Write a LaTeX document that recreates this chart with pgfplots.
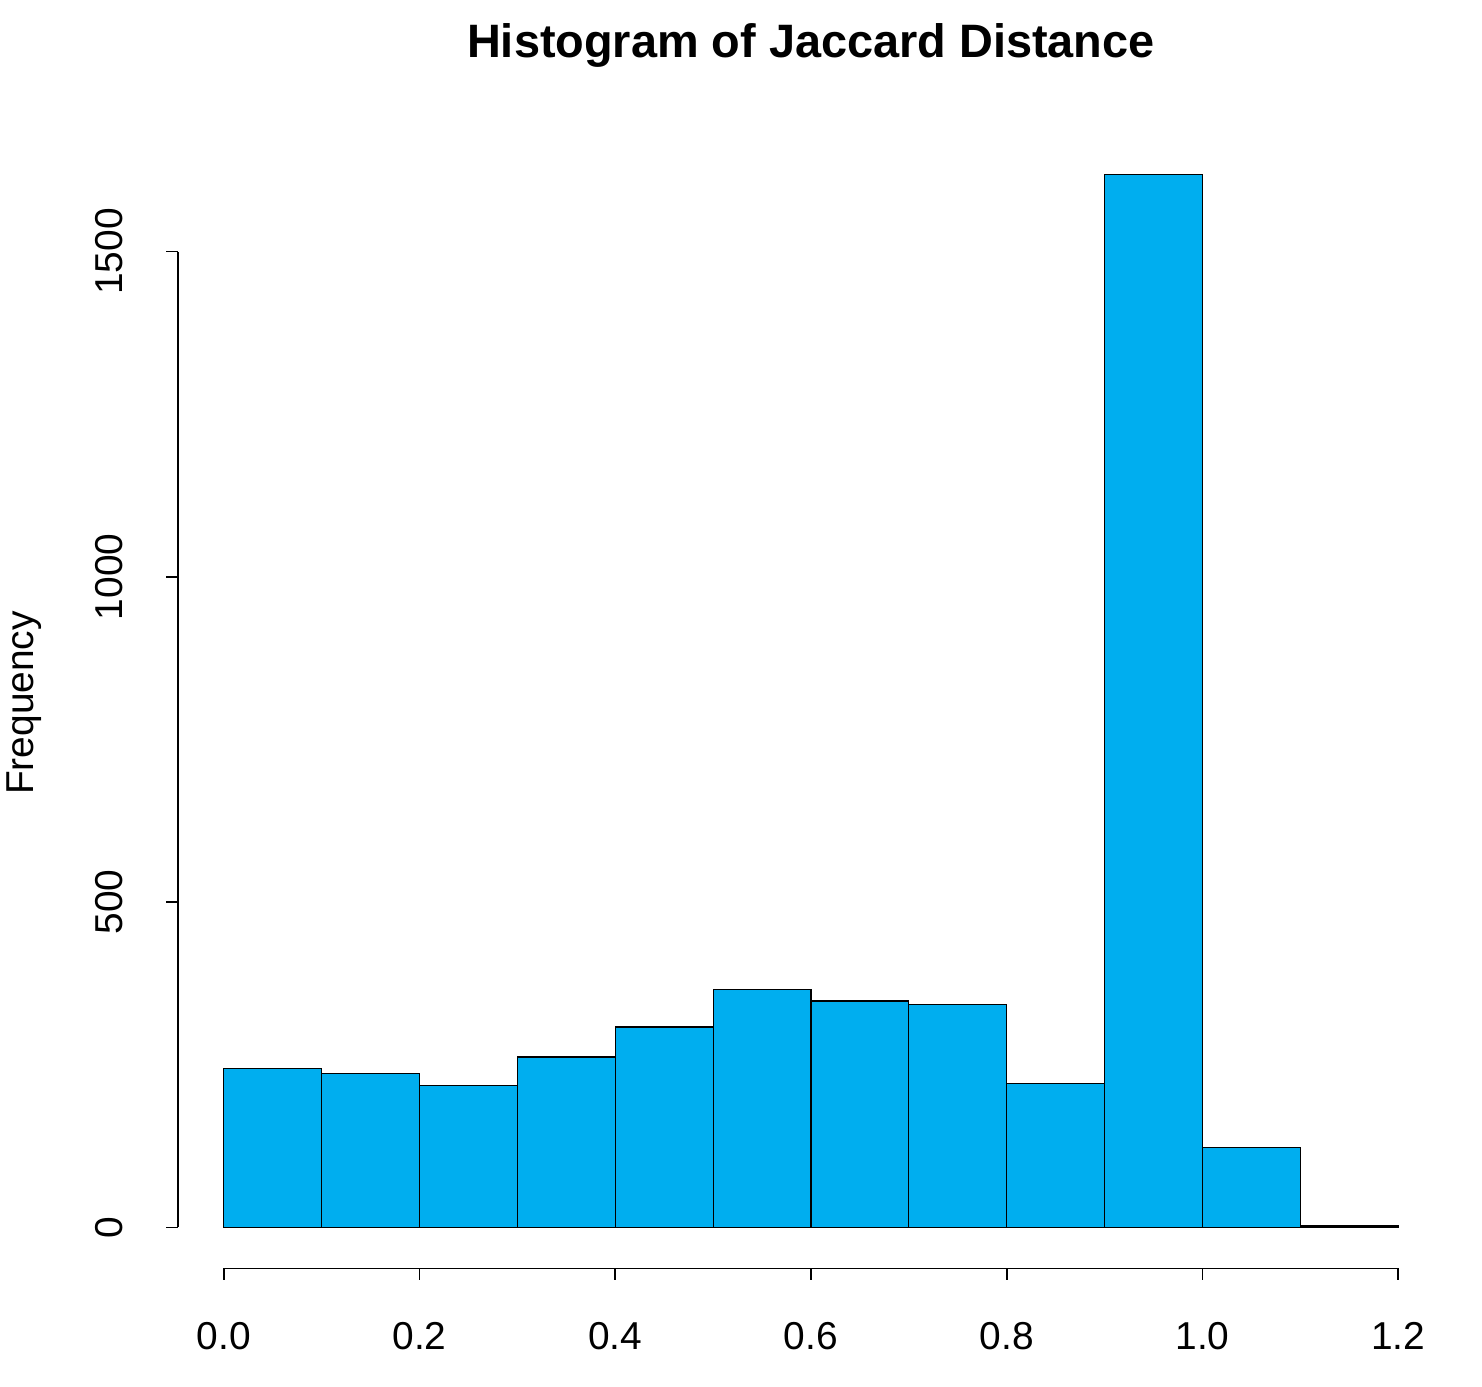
\documentclass[border=0pt]{standalone}
\usepackage{pgfplots}
\pgfplotsset{compat=1.18}
\usepackage{fontspec}
\setmainfont{Liberation Sans}
\definecolor{barc}{HTML}{00AEEF}
\begin{document}
\begin{tikzpicture}
\begin{axis}[scale only axis, width=636pt, height=570pt,
  xmin=-0.048, xmax=1.248, ymin=-64.7, ymax=1682.7,
  axis line style={draw=none}, ticks=none, clip=false]
\path (rel axis cs:-0.136,-0.1026) rectangle (rel axis cs:1.029,1.1167);
\addplot[ybar interval, fill=barc, draw=black, line width=0.6pt] coordinates {
(0,244) (0.1,236) (0.2,218) (0.3,262) (0.4,308) (0.5,366) (0.6,348) (0.7,342) (0.8,221) (0.9,1618) (1.0,123) (1.1,2) (1.2,2)};
\draw[line width=0.8pt] (axis cs:0,-63) -- (axis cs:1.2,-63);
\pgfplotsinvokeforeach{0,0.2,0.4,0.6,0.8,1.0,1.2}{
  \draw[line width=0.8pt] (axis cs:#1,-63) -- (axis cs:#1,-81.6);
  \node[font=\fontsize{19.5}{22}\selectfont] at (axis cs:#1,-167) {\pgfmathprintnumber[fixed,fixed zerofill,precision=1,assume math mode=true]{#1}};}
\draw[line width=0.8pt] (axis cs:-0.047,0) -- (axis cs:-0.047,1500);
\pgfplotsinvokeforeach{0,500,1000,1500}{
  \draw[line width=0.8pt] (axis cs:-0.047,#1) -- (axis cs:-0.059,#1);
  \node[rotate=90,font=\fontsize{19.5}{22}\selectfont] at (axis cs:-0.117,#1) {#1};}
\node[rotate=90,font=\fontsize{19.5}{22}\selectfont] at (axis cs:-0.204,806) {Frequency};
\node[font=\fontsize{23.5}{26}\selectfont\bfseries] at (axis cs:0.6,1817) {Histogram of Jaccard Distance};
\end{axis}
\end{tikzpicture}
\end{document}
